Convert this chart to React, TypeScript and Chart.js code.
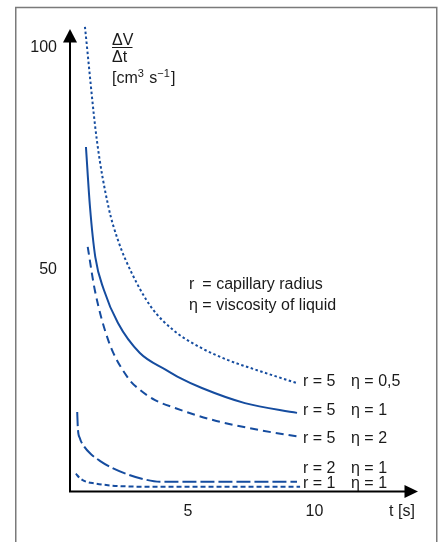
import React, { useEffect, useRef } from "react";
import { Chart, registerables } from "chart.js";

Chart.register(...registerables);

// Axis ticks and ranges
const X_TICKS = [5, 10];
const Y_TICKS = [50, 100];
const X_MIN = 0.34;
const X_MAX = 14.05;
const Y_MIN = 0;
const Y_MAX = 105;

// Flow rate ΔV/Δt [cm³ s⁻¹] over time t [s]
const T_R5_ETA05 = [0.93, 1.4, 1.86, 2.23, 2.78, 3.54, 4.41, 5.47, 6.58, 7.69, 9.31];
const V_R5_ETA05 = [104.6, 79.1, 64.0, 56.6, 49.1, 41.5, 36.3, 32.4, 29.5, 27.3, 24.3];

const T_R5_ETA1 = [0.97, 1.13, 1.34, 1.68, 2.23, 3.1, 4.13, 4.68, 5.55, 7.25, 9.31];
const V_R5_ETA1 = [77.5, 64.0, 52.7, 45.3, 37.9, 31.1, 27.3, 25.5, 23.2, 19.8, 17.6];

const T_R5_ETA2 = [1.04, 1.32, 1.85, 2.63, 3.1, 3.7, 4.49, 5.99, 7.85, 9.43];
const V_R5_ETA2 = [55.0, 45.3, 34.0, 25.5, 22.8, 20.5, 18.7, 16.0, 13.7, 12.2];

const T_R2_ETA1 = [0.625, 0.65, 0.73, 0.89, 1.17, 1.52, 2.0, 2.59, 3.22, 3.89, 5.47, 9.31];
const V_R2_ETA1 = [17.8, 14.2, 11.9, 10.1, 8.3, 6.8, 5.2, 3.8, 2.7, 2.1, 2.1, 2.1];

const T_R1_ETA1 = [0.57, 0.73, 0.97, 1.32, 1.84, 2.51, 3.5, 9.43];
const V_R1_ETA1 = [3.9, 2.9, 2.1, 1.7, 1.3, 1.05, 0.95, 0.95];

const R_LABELS = ["r = 5", "r = 5", "r = 5", "r = 2", "r = 1"];
const ETA_LABELS = ["η = 0,5", "η = 1", "η = 2", "η = 1", "η = 1"];

const X_TITLE = "t [s]";
const LEGEND_R = "r";
const LEGEND_R_TEXT = "= capillary radius";
const LEGEND_ETA = "η = viscosity of liquid";

const BLUE = "#154c9f";
const INK = "#1a1a1a";
const FONT = '"Liberation Sans", Arial, sans-serif';

// Text layout (canvas pixels)
const SERIES_LABEL_X_R = 303;
const SERIES_LABEL_X_ETA = 351;
const SERIES_LABEL_BASELINES = [386, 415, 443, 473, 488];

const toPoints = (ts: number[], vs: number[]) => ts.map((t, i) => ({ x: t, y: vs[i] }));

const decorations = {
  id: "decorations",
  beforeDraw(chart: any) {
    const { ctx, width, height } = chart;
    ctx.save();
    ctx.fillStyle = "#ffffff";
    ctx.fillRect(0, 0, width, height);
    ctx.strokeStyle = "#7a7a7a";
    ctx.lineWidth = 1.5;
    ctx.strokeRect(15.75, 7.5, 421, height + 20);
    ctx.restore();
  },
  afterDraw(chart: any) {
    const { ctx } = chart;
    const xs = chart.scales.x;
    const ys = chart.scales.y;
    const ax = xs.left;
    const ay = ys.getPixelForValue(0) + 0.5;

    ctx.save();
    // axes with arrow heads
    ctx.strokeStyle = "#000";
    ctx.fillStyle = "#000";
    ctx.lineWidth = 2;
    ctx.beginPath();
    ctx.moveTo(ax, ay + 1);
    ctx.lineTo(ax, 42);
    ctx.moveTo(ax - 1, ay);
    ctx.lineTo(405, ay);
    ctx.stroke();

    ctx.beginPath();
    ctx.moveTo(ax, 29);
    ctx.lineTo(ax - 7, 42.5);
    ctx.lineTo(ax + 7, 42.5);
    ctx.closePath();
    ctx.fill();

    ctx.beginPath();
    ctx.moveTo(418, ay);
    ctx.lineTo(404.5, ay - 6.5);
    ctx.lineTo(404.5, ay + 6.5);
    ctx.closePath();
    ctx.fill();

    ctx.fillStyle = INK;
    ctx.font = `16px ${FONT}`;

    // x axis title
    ctx.textAlign = "center";
    ctx.textBaseline = "middle";
    ctx.fillText(X_TITLE, 402, 512);

    // y axis title: ΔV/Δt [cm³ s⁻¹]
    ctx.textAlign = "left";
    ctx.textBaseline = "alphabetic";
    ctx.fillText("ΔV", 112, 45);
    ctx.fillText("Δt", 112, 62);
    ctx.strokeStyle = INK;
    ctx.lineWidth = 1;
    ctx.beginPath();
    ctx.moveTo(112, 47.5);
    ctx.lineTo(132.5, 47.5);
    ctx.stroke();

    let cx = 112;
    const unitBase = 83;
    const parts: [string, boolean][] = [
      ["[cm", false],
      ["3", true],
      [" s", false],
      ["\u22121", true],
      ["]", false],
    ];
    for (const [txt, sup] of parts) {
      ctx.font = sup ? `11px ${FONT}` : `16px ${FONT}`;
      ctx.fillText(txt, cx, sup ? unitBase - 6 : unitBase);
      cx += ctx.measureText(txt).width + (sup ? 1 : 0);
    }

    // legend for symbols
    ctx.font = `16px ${FONT}`;
    const lx = 189;
    const etaPad = ctx.measureText("η ").width;
    ctx.fillText(LEGEND_R, lx, 289);
    ctx.fillText(LEGEND_R_TEXT, lx + etaPad, 289);
    ctx.fillText(LEGEND_ETA, lx, 310);

    // series labels
    R_LABELS.forEach((r, i) => {
      const by = SERIES_LABEL_BASELINES[i];
      ctx.fillText(r, SERIES_LABEL_X_R, by);
      ctx.fillText(ETA_LABELS[i], SERIES_LABEL_X_ETA, by);
    });
    ctx.restore();
  },
};

export default function App() {
  const canvasRef = useRef<HTMLCanvasElement | null>(null);

  useEffect(() => {
    const canvas = canvasRef.current;
    if (!canvas) return;

    const common = {
      borderColor: BLUE,
      borderWidth: 2,
      pointRadius: 0,
      fill: false,
      cubicInterpolationMode: "monotone" as const,
      clip: false as any,
      borderCapStyle: "butt" as const,
    };

    const chart = new Chart(canvas, {
      type: "line",
      data: {
        datasets: [
          { ...common, label: "r = 5, η = 0,5", data: toPoints(T_R5_ETA05, V_R5_ETA05), borderDash: [2.5, 2.5] },
          { ...common, label: "r = 5, η = 1", data: toPoints(T_R5_ETA1, V_R5_ETA1) },
          { ...common, label: "r = 5, η = 2", data: toPoints(T_R5_ETA2, V_R5_ETA2), borderDash: [8, 5] },
          { ...common, label: "r = 2, η = 1", data: toPoints(T_R2_ETA1, V_R2_ETA1), borderDash: [14, 4] },
          { ...common, label: "r = 1, η = 1", data: toPoints(T_R1_ETA1, V_R1_ETA1), borderDash: [5, 3] },
        ],
      },
      options: {
        animation: false,
        responsive: false,
        devicePixelRatio: 1,
        layout: { padding: { left: 0, right: 25, top: 25, bottom: 0 } },
        plugins: {
          legend: { display: false },
          tooltip: { enabled: false },
        },
        scales: {
          x: {
            type: "linear",
            min: X_MIN,
            max: X_MAX,
            grid: { display: false, drawTicks: false },
            border: { display: false },
            afterFit: (scale: any) => {
              scale.height = 51;
            },
            afterBuildTicks: (scale: any) => {
              scale.ticks = X_TICKS.map((v) => ({ value: v }));
            },
            ticks: {
              color: INK,
              font: { family: FONT, size: 16 },
              padding: 11,
              maxRotation: 0,
              autoSkip: false,
            },
          },
          y: {
            type: "linear",
            min: Y_MIN,
            max: Y_MAX,
            grid: { display: false, drawTicks: false },
            border: { display: false },
            afterFit: (scale: any) => {
              scale.width = 70;
            },
            afterBuildTicks: (scale: any) => {
              scale.ticks = Y_TICKS.map((v) => ({ value: v }));
            },
            ticks: {
              color: INK,
              font: { family: FONT, size: 16 },
              padding: 13,
              autoSkip: false,
            },
          },
        },
      },
      plugins: [decorations],
    });

    return () => chart.destroy();
  }, []);

  return (
    <div
      style={{
        position: "fixed",
        left: 0,
        top: 0,
        width: 442,
        height: 542,
        overflow: "hidden",
        background: "#fff",
      }}
    >
      <canvas ref={canvasRef} width={442} height={542} style={{ display: "block" }} />
    </div>
  );
}
